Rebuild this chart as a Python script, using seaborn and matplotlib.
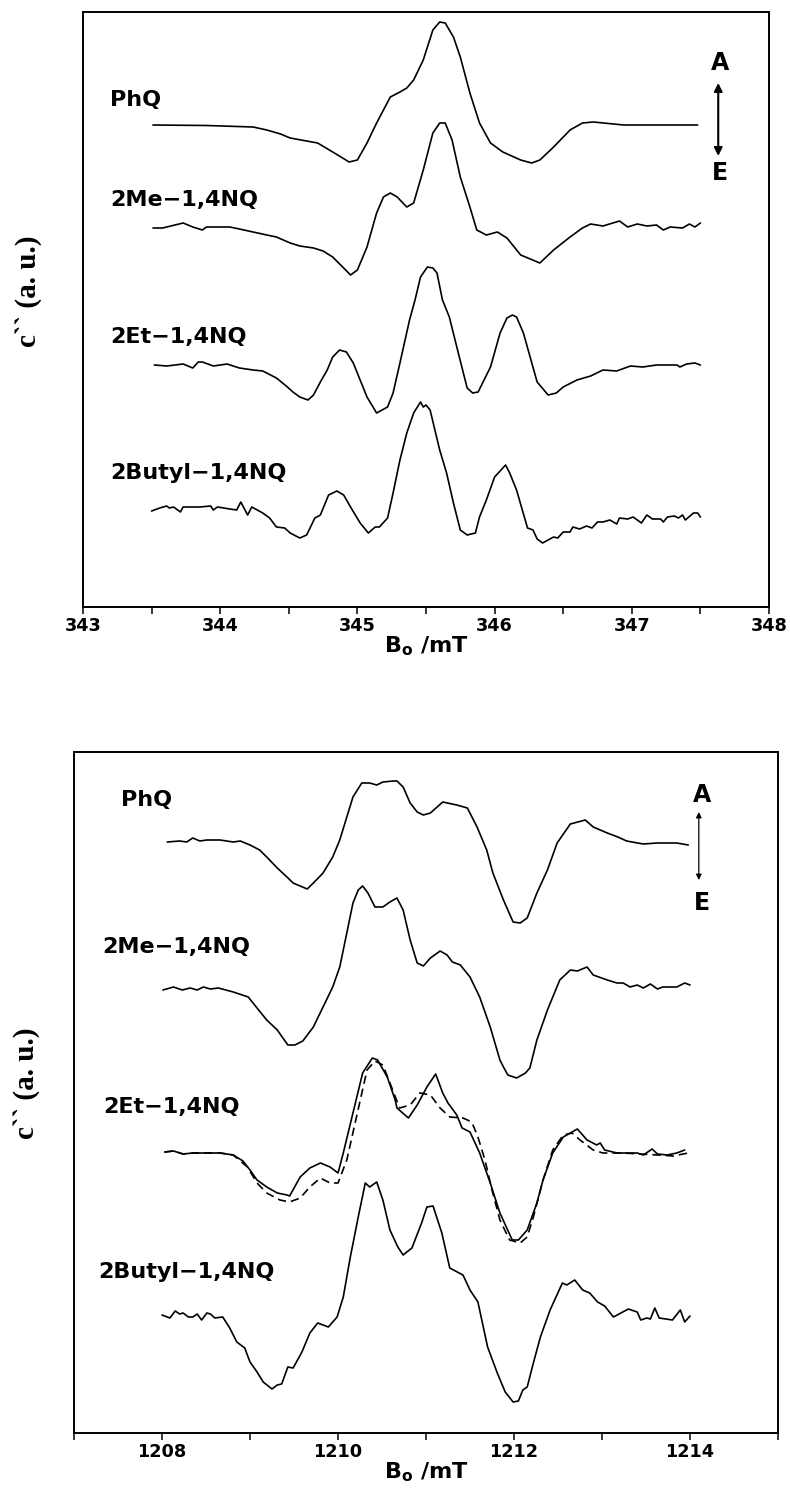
import numpy as np
import pandas as pd
import matplotlib
matplotlib.use("Agg")
import matplotlib.pyplot as plt
import seaborn as sns
from matplotlib.ticker import MultipleLocator, FixedLocator

# ---------------- DATA (top panel, X-band, field in mT) ----------------
top_names = ["PhQ", "2Me\u22121,4NQ", "2Et\u22121,4NQ", "2Butyl\u22121,4NQ"]

phq_top_B = [343.51, 343.90, 344.24, 344.34, 344.44, 344.51, 344.71, 344.82, 344.94, 345.00,
             345.07, 345.14, 345.24, 345.31, 345.36, 345.41, 345.48, 345.55, 345.60, 345.64,
             345.70, 345.75, 345.82, 345.89, 345.97, 346.06, 346.19, 346.27, 346.33, 346.43,
             346.55, 346.64, 346.72, 346.94, 347.48]
phq_top_I = [0, -0.5, -2, -5, -9, -13, -18, -27, -37, -35,
             -18, 2, 28, 33, 37, 45, 65, 95, 103, 102,
             88, 68, 32, 2, -18, -27, -35, -38, -35, -22,
             -5, 2, 3, 0, 0]

me_top_B = [343.51, 343.58, 343.73, 343.80, 343.87, 343.90, 344.07, 344.14, 344.24, 344.34,
            344.41, 344.46, 344.51, 344.58, 344.68, 344.75, 344.82, 344.90, 344.95, 345.00,
            345.07, 345.14, 345.19, 345.24, 345.29, 345.36, 345.41, 345.48, 345.55, 345.60,
            345.64, 345.69, 345.75, 345.82, 345.87, 345.94, 346.02, 346.09, 346.19, 346.33,
            346.43, 346.55, 346.64, 346.70, 346.79, 346.91, 346.97, 347.04, 347.11, 347.18,
            347.23, 347.28, 347.37, 347.42, 347.46, 347.50]
me_top_I = [0, 0, 5, 1, -2, 1, 1, -1, -4, -7,
            -9, -12, -15, -18, -20, -23, -29, -40, -47, -42,
            -19, 15, 31, 35, 31, 21, 25, 58, 95, 105,
            105, 88, 51, 21, -2, -7, -4, -10, -27, -35,
            -22, -9, 0, 4, 2, 7, 1, 4, 2, 3,
            -2, 1, 0, 4, 1, 5]

et_top_B = [343.52, 343.61, 343.73, 343.80, 343.84, 343.87, 343.95, 344.05, 344.14, 344.24,
            344.31, 344.41, 344.49, 344.53, 344.58, 344.64, 344.68, 344.73, 344.78, 344.82,
            344.87, 344.92, 344.97, 345.02, 345.07, 345.14, 345.22, 345.26, 345.31, 345.38,
            345.42, 345.46, 345.51, 345.55, 345.58, 345.62, 345.67, 345.73, 345.80, 345.84,
            345.88, 345.97, 346.04, 346.09, 346.13, 346.16, 346.21, 346.31, 346.39, 346.45,
            346.50, 346.60, 346.70, 346.79, 346.89, 346.99, 347.08, 347.18, 347.33, 347.35,
            347.40, 347.46, 347.50]
et_top_I = [0, -1, 1, -3, 3, 3, -1, 1, -3, -5,
            -6, -13, -22, -27, -32, -35, -30, -17, -5, 8,
            15, 13, 2, -15, -32, -48, -42, -28, 2, 45,
            65, 88, 98, 97, 92, 65, 48, 15, -23, -28,
            -27, -2, 32, 47, 50, 48, 32, -17, -30, -28,
            -22, -15, -11, -5, -6, -1, -2, 0, 0, -2,
            1, 2, 0]

bu_top_B = [343.50, 343.56, 343.61, 343.63, 343.66, 343.71, 343.73, 343.85, 343.93, 343.95,
            343.98, 344.07, 344.12, 344.15, 344.20, 344.23, 344.31, 344.36, 344.41, 344.47,
            344.51, 344.58, 344.63, 344.69, 344.73, 344.79, 344.85, 344.90, 344.95, 345.02,
            345.08, 345.13, 345.16, 345.22, 345.26, 345.31, 345.36, 345.41, 345.46, 345.48,
            345.50, 345.53, 345.57, 345.60, 345.65, 345.70, 345.75, 345.80, 345.86, 345.89,
            345.94, 346.00, 346.08, 346.11, 346.16, 346.24, 346.28, 346.31, 346.35, 346.43,
            346.46, 346.50, 346.55, 346.57, 346.62, 346.67, 346.71, 346.75, 346.79, 346.84,
            346.89, 346.91, 346.97, 347.01, 347.07, 347.11, 347.15, 347.21, 347.23, 347.26,
            347.31, 347.34, 347.37, 347.39, 347.45, 347.48, 347.50]
bu_top_I = [-3, 0, 2, 0, 1, -4, 1, 1, 2, -2,
            1, -1, -2, 6, -7, 1, -5, -10, -19, -20,
            -25, -30, -27, -10, -7, 13, 17, 13, 1, -15,
            -25, -19, -19, -10, 15, 48, 75, 95, 106, 101,
            103, 98, 75, 58, 35, 5, -22, -27, -25, -9,
            8, 31, 43, 35, 18, -20, -22, -31, -35, -29,
            -30, -24, -24, -19, -21, -18, -20, -14, -14, -12,
            -16, -10, -11, -9, -15, -7, -11, -11, -14, -9,
            -8, -10, -7, -12, -5, -5, -9]

# ---------------- DATA (bottom panel, Q-band, field in mT) ----------------
phq_bot_B = [1208.06, 1208.20, 1208.28, 1208.35, 1208.43, 1208.51, 1208.66, 1208.81, 1208.89, 1209.00,
             1209.11, 1209.19, 1209.31, 1209.42, 1209.49, 1209.57, 1209.65, 1209.72, 1209.83, 1209.94,
             1210.02, 1210.10, 1210.17, 1210.27, 1210.36, 1210.44, 1210.51, 1210.63, 1210.67, 1210.74,
             1210.82, 1210.90, 1210.97, 1211.05, 1211.19, 1211.35, 1211.47, 1211.58, 1211.69, 1211.76,
             1211.88, 1211.99, 1212.07, 1212.15, 1212.26, 1212.38, 1212.49, 1212.64, 1212.81, 1212.90,
             1213.06, 1213.18, 1213.28, 1213.47, 1213.63, 1213.85, 1213.98]
phq_bot_I = [0, 1, 0, 4, 1, 2, 2, 0, 1, -3,
             -8, -15, -26, -35, -41, -44, -47, -41, -31, -15,
             2, 25, 45, 59, 59, 57, 60, 61, 61, 55,
             39, 30, 27, 29, 40, 37, 34, 15, -8, -31,
             -58, -80, -81, -76, -51, -28, -1, 18, 22, 15,
             9, 5, 1, -2, -1, -1, -3]

me_bot_B = [1208.01, 1208.13, 1208.23, 1208.32, 1208.40, 1208.47, 1208.55, 1208.64, 1208.81, 1208.98,
            1209.08, 1209.19, 1209.31, 1209.43, 1209.51, 1209.60, 1209.72, 1209.83, 1209.94, 1210.02,
            1210.10, 1210.17, 1210.23, 1210.28, 1210.34, 1210.42, 1210.51, 1210.59, 1210.67, 1210.74,
            1210.82, 1210.90, 1210.97, 1211.05, 1211.16, 1211.24, 1211.30, 1211.39, 1211.50, 1211.61,
            1211.73, 1211.84, 1211.88, 1211.93, 1212.03, 1212.13, 1212.18, 1212.26, 1212.38, 1212.52,
            1212.64, 1212.72, 1212.83, 1212.90, 1213.06, 1213.17, 1213.24, 1213.32, 1213.40, 1213.47,
            1213.55, 1213.63, 1213.69, 1213.85, 1213.94, 1214.00]
me_bot_I = [-2, 1, -2, 0, -2, 1, -1, 0, -4, -9,
            -20, -32, -42, -57, -57, -53, -39, -19, 1, 21,
            55, 85, 98, 102, 95, 81, 81, 86, 90, 78,
            48, 25, 22, 30, 37, 33, 26, 23, 11, -9,
            -39, -72, -79, -87, -90, -85, -80, -52, -22, 8,
            18, 17, 21, 13, 8, 5, 5, 1, 3, 0,
            4, -1, 1, 1, 5, 3]

et_bot_B = [1208.03, 1208.13, 1208.24, 1208.35, 1208.51, 1208.66, 1208.81, 1208.92, 1209.00, 1209.08,
            1209.19, 1209.31, 1209.42, 1209.45, 1209.57, 1209.68, 1209.80, 1209.91, 1210.00, 1210.06,
            1210.17, 1210.28, 1210.39, 1210.45, 1210.56, 1210.65, 1210.67, 1210.80, 1210.90, 1211.01,
            1211.11, 1211.19, 1211.25, 1211.35, 1211.41, 1211.50, 1211.61, 1211.73, 1211.84, 1211.98,
            1212.05, 1212.15, 1212.26, 1212.33, 1212.44, 1212.56, 1212.72, 1212.83, 1212.94, 1212.98,
            1213.03, 1213.17, 1213.40, 1213.47, 1213.57, 1213.63, 1213.74, 1213.85, 1213.94]
et_bot_I = [1, 2, -1, 0, 0, 0, -2, -8, -17, -27,
            -34, -40, -42, -43, -24, -15, -10, -14, -20, 0,
            40, 80, 95, 93, 76, 53, 45, 35, 48, 66,
            79, 60, 50, 38, 25, 21, 0, -30, -60, -87,
            -87, -77, -50, -27, 0, 16, 24, 13, 8, 10,
            3, 0, 0, -2, 4, -1, -2, 0, 3]

et_sim_B = [1208.03, 1208.13, 1208.24, 1208.35, 1208.51, 1208.66, 1208.81, 1208.97, 1209.08, 1209.19,
            1209.34, 1209.45, 1209.57, 1209.68, 1209.80, 1209.91, 1210.00, 1210.10, 1210.22, 1210.33,
            1210.42, 1210.51, 1210.59, 1210.70, 1210.82, 1210.93, 1211.05, 1211.16, 1211.27, 1211.42,
            1211.52, 1211.59, 1211.67, 1211.75, 1211.84, 1211.95, 1212.07, 1212.15, 1212.22, 1212.33,
            1212.44, 1212.56, 1212.66, 1212.75, 1212.90, 1213.01, 1213.24, 1213.63, 1213.81, 1213.98]
et_sim_I = [1, 2, -1, 0, 0, 0, -2, -14, -30, -40,
            -47, -49, -45, -34, -25, -30, -30, -7, 40, 83,
            92, 88, 70, 45, 48, 60, 58, 45, 36, 35,
            31, 16, -7, -37, -67, -87, -90, -84, -64, -27,
            3, 18, 20, 13, 3, 0, 0, -2, -3, 0]

bu_bot_B = [1208.00, 1208.09, 1208.15, 1208.20, 1208.24, 1208.30, 1208.35, 1208.40, 1208.45, 1208.51,
            1208.55, 1208.60, 1208.69, 1208.77, 1208.85, 1208.94, 1209.00, 1209.08, 1209.15, 1209.25,
            1209.31, 1209.36, 1209.43, 1209.49, 1209.59, 1209.68, 1209.77, 1209.89, 1209.99, 1210.06,
            1210.14, 1210.23, 1210.31, 1210.36, 1210.44, 1210.51, 1210.59, 1210.68, 1210.74, 1210.84,
            1210.95, 1211.01, 1211.08, 1211.18, 1211.27, 1211.42, 1211.50, 1211.59, 1211.70, 1211.81,
            1211.90, 1211.99, 1212.05, 1212.10, 1212.15, 1212.22, 1212.30, 1212.41, 1212.55, 1212.60,
            1212.69, 1212.78, 1212.86, 1212.95, 1213.03, 1213.13, 1213.30, 1213.40, 1213.44, 1213.51,
            1213.55, 1213.60, 1213.65, 1213.80, 1213.89, 1213.94, 1214.00]
bu_bot_I = [0, -3, 4, 1, 2, -2, -2, 1, -5, 2,
            1, -3, -2, -13, -27, -33, -47, -57, -67, -74,
            -70, -69, -52, -53, -37, -18, -8, -12, -2, 18,
            58, 98, 132, 128, 133, 115, 85, 68, 60, 67,
            92, 108, 109, 82, 47, 40, 25, 13, -32, -58,
            -77, -87, -86, -75, -72, -48, -22, 5, 32, 30,
            35, 25, 22, 13, 9, -2, 6, 3, -5, -3,
            -4, 7, -3, -5, 5, -7, -1]

top_offsets = [482, 379, 242, 99]
bot_offsets = [591, 445, 280, 118]

top_ticks = [343, 344, 345, 346, 347, 348]
bot_ticks = [1208, 1210, 1212, 1214]

# ---------------- FIGURE ----------------
sns.set_style("ticks")
plt.rcParams["font.family"] = ["DejaVu Sans"]
plt.rcParams["mathtext.fontset"] = "dejavusans"
plt.rcParams["text.color"] = "black"
plt.rcParams["axes.labelcolor"] = "black"
plt.rcParams["xtick.color"] = "black"
plt.rcParams["ytick.color"] = "black"
plt.rcParams["axes.edgecolor"] = "black"

W, H = 790, 1490
fig = plt.figure(figsize=(W / 100, H / 100), dpi=100)

def pix_axes(l, t, r, b):
    return fig.add_axes([l / W, 1 - b / H, (r - l) / W, (b - t) / H])

ax1 = pix_axes(83, 12, 769, 607)
ax2 = pix_axes(74, 752, 778, 1433)

def draw(ax, B, I, off, ls="-"):
    df = pd.DataFrame({"B": B, "I": np.array(I, dtype=float) + off})
    sns.lineplot(data=df, x="B", y="I", ax=ax, color="black", lw=1.2,
                 linestyle=ls, estimator=None, sort=False)

top_series = [(phq_top_B, phq_top_I), (me_top_B, me_top_I), (et_top_B, et_top_I), (bu_top_B, bu_top_I)]
for (B, I), off in zip(top_series, top_offsets):
    draw(ax1, B, I, off)

bot_series = [(phq_bot_B, phq_bot_I), (me_bot_B, me_bot_I), (et_bot_B, et_bot_I), (bu_bot_B, bu_bot_I)]
for (B, I), off in zip(bot_series, bot_offsets):
    draw(ax2, B, I, off)
draw(ax2, et_sim_B, et_sim_I, bot_offsets[2], ls=(0, (5, 3)))

ax1.set_xlim(343, 348)
ax1.set_ylim(0, 595)
ax2.set_xlim(1207, 1215)
ax2.set_ylim(0, 681)

ax1.xaxis.set_major_locator(FixedLocator(top_ticks))
ax1.xaxis.set_minor_locator(MultipleLocator(0.5))
ax2.xaxis.set_major_locator(FixedLocator(bot_ticks))
ax2.xaxis.set_minor_locator(MultipleLocator(1))

for ax in (ax1, ax2):
    ax.set_yticks([])
    for s in ax.spines.values():
        s.set_linewidth(1.4)
        s.set_color("black")
        s.set_visible(True)
    ax.tick_params(axis="x", which="both", direction="out", length=5, width=1.1,
                   labelsize=12.7, pad=2, colors="black")
    for lab in ax.get_xticklabels():
        lab.set_fontweight("bold")
        lab.set_color("black")
    ax.set_xlabel(r"$\mathbf{B_{o}}$ /mT", fontsize=16, fontweight="bold",
                  labelpad=0, color="black")
    ax.set_ylabel("c\u0060\u0060 (a. u.)", fontsize=21, fontweight="bold", color="black",
                  family=["Liberation Serif", "DejaVu Serif"])

ax1.yaxis.set_label_coords(-0.06, 0.53)
ax2.yaxis.set_label_coords(-0.048, 0.514)

# sample labels
lab_fs = 16
top_lab_x = 343.20
top_lab_y = [507, 407, 270, 134]
for name, y in zip(top_names, top_lab_y):
    ax1.text(top_lab_x, y, name, fontsize=lab_fs, fontweight="bold", color="black",
             ha="left", va="center")

bot_lab_x = [1207.53, 1207.32, 1207.33, 1207.28]
bot_lab_y = [633, 486, 326, 161]
for name, x, y in zip(top_names, bot_lab_x, bot_lab_y):
    ax2.text(x, y, name, fontsize=lab_fs, fontweight="bold", color="black",
             ha="left", va="center")

# A / E arrows
ax1.annotate("", xy=(347.63, 524), xytext=(347.63, 451),
             arrowprops=dict(arrowstyle="<|-|>", color="black", lw=1.5,
                             mutation_scale=12, shrinkA=0, shrinkB=0))
ax1.text(347.64, 544, "A", fontsize=17, fontweight="bold", color="black", ha="center", va="center")
ax1.text(347.64, 434, "E", fontsize=17, fontweight="bold", color="black", ha="center", va="center")

ax2.annotate("", xy=(1214.10, 621), xytext=(1214.10, 553),
             arrowprops=dict(arrowstyle="<|-|>", color="black", lw=0.9,
                             mutation_scale=8, shrinkA=0, shrinkB=0))
ax2.text(1214.14, 638, "A", fontsize=17, fontweight="bold", color="black", ha="center", va="center")
ax2.text(1214.14, 530, "E", fontsize=17, fontweight="bold", color="black", ha="center", va="center")

fig.savefig("out.png", dpi=100, facecolor="white")
